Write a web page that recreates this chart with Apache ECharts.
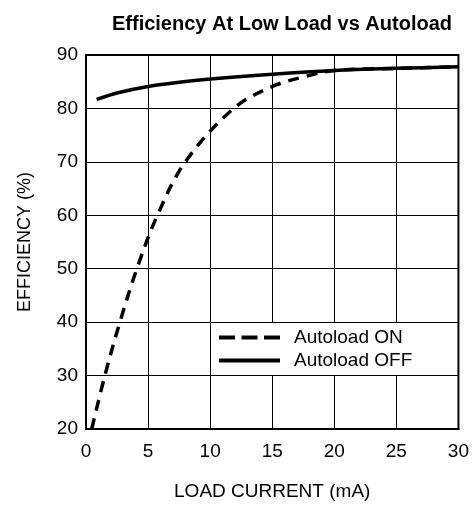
<!DOCTYPE html>
<html>
<head>
<meta charset="utf-8">
<script src="https://cdn.jsdelivr.net/npm/echarts@6/dist/echarts.min.js"></script>
<style>html,body{margin:0;padding:0;background:#fff;}#c{width:472px;height:506px;}</style>
</head>
<body>
<div id="c"></div>
<script>
var titleText = 'Efficiency At Low Load vs Autoload';
var xName = 'LOAD CURRENT (mA)';
var yName = 'EFFICIENCY (%)';
var seriesNames = ['Autoload ON', 'Autoload OFF'];
var xTicks = { min: 0, max: 30, interval: 5 };
var yTicks = { min: 20, max: 90, interval: 10 };

var onCurrent = [0.46, 1.52, 2.73, 4.1, 5.75, 8.0, 11.9, 15, 17.7, 20, 25, 30];
var onEff     = [20, 30, 40, 50, 60, 70, 80, 84.1, 86.0, 87.1, 87.5, 87.8];

var offCurrent = [0.86, 2.5, 5, 7.5, 10, 15, 20, 25, 30];
var offEff     = [81.7, 82.9, 84.1, 84.9, 85.5, 86.4, 87.1, 87.5, 87.8];

function pairs(xs, ys) { return xs.map(function (x, i) { return [x, ys[i]]; }); }

var font = 'Liberation Sans, Arial, sans-serif';
var chart = echarts.init(document.getElementById('c'), null, { renderer: 'canvas' });
chart.setOption({
  animation: false,
  backgroundColor: '#fff',
  title: {
    text: titleText,
    right: 15, top: 9,
    textStyle: { fontFamily: font, fontSize: 20, fontWeight: 'bold', color: '#000' }
  },
  grid: { left: 86, right: 12, top: 55, bottom: 77, show: true, borderColor: '#000', borderWidth: 2, backgroundColor: 'transparent' },
  legend: {
    orient: 'vertical',
    left: 212, top: 323,
    padding: [5, 28, 5, 5],
    backgroundColor: '#fff',
    itemWidth: 61, itemHeight: 14, itemGap: 4,
    itemStyle: { opacity: 0 },
    textStyle: { fontFamily: font, fontSize: 19, color: '#000', padding: [0, 0, 0, 9] },
    data: [
      { name: seriesNames[0], lineStyle: { width: 4, type: [16, 6.5], color: '#000' } },
      { name: seriesNames[1], lineStyle: { width: 4, type: 'solid', color: '#000' } }
    ]
  },
  xAxis: {
    type: 'value', min: xTicks.min, max: xTicks.max, interval: xTicks.interval,
    name: xName, nameLocation: 'middle', nameGap: 53,
    nameTextStyle: { fontFamily: font, fontSize: 19, color: '#000' },
    axisLine: { lineStyle: { color: '#000', width: 2 } },
    axisTick: { show: false },
    axisLabel: { fontFamily: font, fontSize: 19, color: '#000', margin: 13 },
    splitLine: { show: true, lineStyle: { color: '#000', width: 1 } }
  },
  yAxis: {
    type: 'value', min: yTicks.min, max: yTicks.max, interval: yTicks.interval,
    name: yName, nameLocation: 'middle', nameGap: 52, nameRotate: 90,
    nameTextStyle: { fontFamily: font, fontSize: 18, color: '#000' },
    axisLine: { show: true, lineStyle: { color: '#000', width: 2 } },
    axisTick: { show: false },
    axisLabel: { fontFamily: font, fontSize: 19, color: '#000', margin: 8 },
    splitLine: { show: true, lineStyle: { color: '#000', width: 1 } }
  },
  series: [
    {
      name: seriesNames[0], type: 'line', data: pairs(onCurrent, onEff),
      smooth: 0.35, symbol: 'none', showSymbol: false, z: 3,
      lineStyle: { color: '#000', width: 3.5, type: [11, 8] },
      itemStyle: { color: '#000' }
    },
    {
      name: seriesNames[1], type: 'line', data: pairs(offCurrent, offEff),
      smooth: 0.3, symbol: 'none', showSymbol: false, z: 4,
      lineStyle: { color: '#000', width: 3.5 },
      itemStyle: { color: '#000' }
    }
  ]
});
</script>
</body>
</html>
